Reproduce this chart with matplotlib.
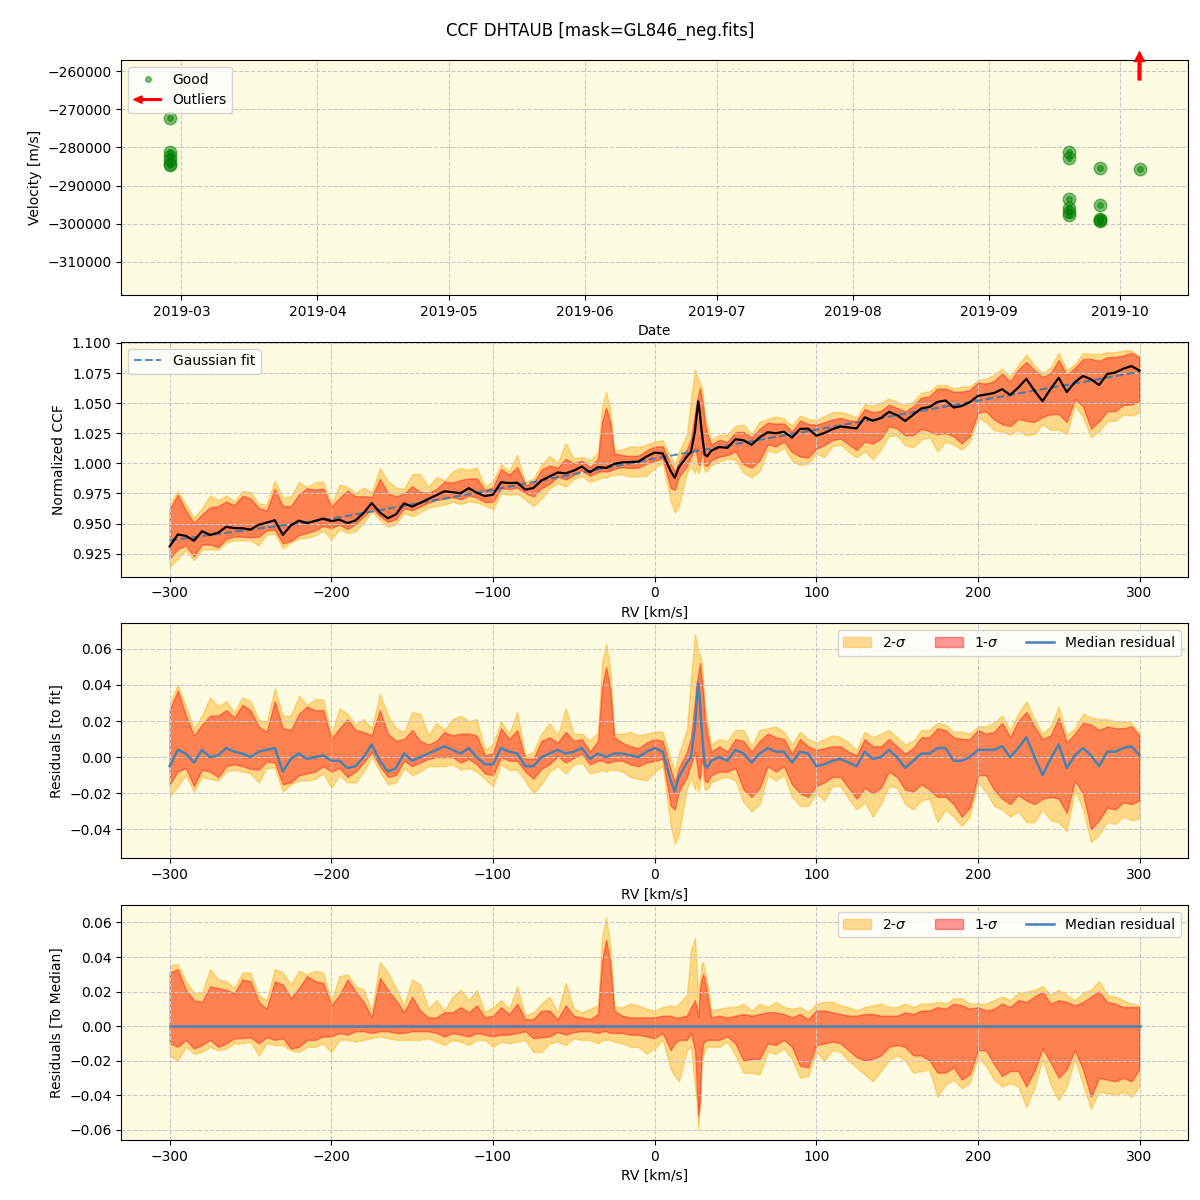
import datetime as dt
import numpy as np
import matplotlib
matplotlib.use('Agg')
import matplotlib.pyplot as plt
import matplotlib.dates as mdates
import matplotlib.patches as mpatches
from matplotlib.lines import Line2D
from matplotlib.legend_handler import HandlerPatch

# --- velocity time series (top panel) ---
obs_dates = ([dt.datetime(2019, 2, 26, 8)] * 6 + [dt.datetime(2019, 9, 19, 10)] * 6
             + [dt.datetime(2019, 9, 26, 12)] * 5 + [dt.datetime(2019, 10, 5, 10)])
obs_vel = [-272400, -281100, -282200, -283300, -284300, -284600,
           -281100, -282800, -293500, -295900, -296800, -297600,
           -285500, -295100, -298700, -299000, -299400,
           -285700]
outlier_dates = [dt.datetime(2019, 10, 5, 10)]

# --- CCF grid [km/s] ---
rv = ([-300, -295, -290, -285, -280, -275, -270, -265, -260, -255, -250, -245, -240, -235,
       -230, -225, -220, -215, -210, -205, -200, -195, -190, -185, -180, -175, -170, -165,
       -160, -155, -150, -145, -140, -135, -130, -125, -120, -115, -110, -105, -100, -95,
       -90, -85, -80, -75, -70, -65, -60, -55, -50, -45, -40,
       -35, -32.5, -30, -27.5, -25, -20, -15, -10, -5, 0,
       5, 10, 12.5, 15, 20, 22.5, 25, 26, 27, 28, 29, 30, 31, 32.5, 35]
      + [40, 45, 50, 55, 60, 65, 70, 75, 80, 85, 90, 95, 100, 105, 110, 115, 120, 125,
         130, 135, 140, 145, 150, 155, 160, 165, 170, 175, 180, 185, 190, 195, 200, 205,
         210, 215, 220, 225, 230, 235, 240, 245, 250, 255, 260, 265, 270, 275, 280, 285,
         290, 295, 300])

gauss_fit = [0.9360, 0.9369, 0.9378, 0.9387, 0.9396, 0.9405, 0.9414, 0.9423, 0.9432, 0.9441,
             0.9450, 0.9459, 0.9468, 0.9477, 0.9486, 0.9495, 0.9504, 0.9513, 0.9522, 0.9531,
             0.9540, 0.9552, 0.9564, 0.9576, 0.9588, 0.9600, 0.9612, 0.9624, 0.9636, 0.9648,
             0.9660, 0.9672, 0.9684, 0.9696, 0.9708, 0.9720, 0.9732, 0.9744, 0.9756, 0.9768,
             0.9780, 0.9793, 0.9806, 0.9819, 0.9832, 0.9845, 0.9858, 0.9871, 0.9884, 0.9897,
             0.9910, 0.9923, 0.9936,
             0.9949, 0.99555, 0.9962, 0.99685, 0.9975, 0.9988, 1.0001, 1.0014, 1.0027, 1.0040,
             1.0052, 1.0064, 1.0070, 1.0076, 1.0088, 1.0094, 1.0100, 1.0102, 1.0105, 1.0107,
             1.0110, 1.0112, 1.0114, 1.0118, 1.0124,
             1.0136, 1.0148, 1.0160, 1.0172, 1.0184, 1.0196, 1.0208, 1.0220, 1.0232, 1.0244,
             1.0256, 1.0268, 1.0280, 1.0292, 1.0304, 1.0316, 1.0328, 1.0340, 1.0352, 1.0364,
             1.0376, 1.0388, 1.0400, 1.0412, 1.0424, 1.0436, 1.0448, 1.0460, 1.0472, 1.0484,
             1.0496, 1.0508, 1.0520, 1.0532, 1.0544, 1.0556, 1.0568, 1.0580, 1.0592, 1.0604,
             1.0616, 1.0628, 1.0640, 1.0652, 1.0664, 1.0676, 1.0688, 1.0700, 1.0712, 1.0724,
             1.0736, 1.0748, 1.0760]

# median residual to the fit
resid_med = [-0.005, 0.004, 0.002, -0.003, 0.004, 0.000, 0.001, 0.005, 0.003, 0.002,
             0.000, 0.003, 0.004, 0.005, -0.008, -0.001, 0.002, -0.001, 0.000, 0.001,
             -0.002, -0.002, -0.006, -0.005, 0.000, 0.007, -0.002, -0.008, -0.006, 0.002,
             -0.002, 0.000, 0.002, 0.004, 0.006, 0.004, 0.002, 0.005, 0.000, -0.004,
             -0.004, 0.005, 0.003, 0.002, -0.005, -0.005, 0.000, 0.002, 0.004, 0.002,
             0.003, 0.005, -0.001,
             0.002, 0.001, 0.000, 0.001, 0.002, 0.002, 0.001, 0.000, 0.003, 0.005,
             0.003, -0.013, -0.019, -0.011, -0.003, 0.000,
             0.017, 0.030, 0.041, 0.031, 0.017, 0.006, -0.004, -0.006, -0.002,
             0.000, -0.002, 0.004, 0.002, -0.003, 0.002, 0.005, 0.003, 0.003, -0.003,
             0.003, 0.002,
             -0.005, -0.004, -0.002, -0.001, -0.003, -0.005, 0.003, -0.001, 0.000, 0.004,
             0.000, -0.006, -0.002, 0.002, 0.002, 0.005, 0.005, -0.002, -0.002, 0.000,
             0.004, 0.004, 0.004, 0.006, 0.000, 0.005, 0.011, 0.000, -0.010, -0.001,
             0.007, -0.006, 0.001, 0.005, 0.001, -0.005, 0.003, 0.003, 0.005, 0.006, 0.001]

# percentile offsets from the median (2-sigma / 1-sigma, upper / lower)
hi2 = [0.035, 0.036, 0.026, 0.019, 0.019, 0.033, 0.027, 0.026, 0.022, 0.031,
       0.031, 0.018, 0.015, 0.033, 0.031, 0.024, 0.032, 0.030, 0.032, 0.031,
       0.014, 0.029, 0.030, 0.023, 0.021, 0.009, 0.037, 0.031, 0.022, 0.012,
       0.027, 0.024, 0.010, 0.015, 0.009, 0.017, 0.021, 0.015, 0.021, 0.008,
       0.011, 0.015, 0.010, 0.023, 0.006, 0.008, 0.013, 0.017, 0.008, 0.025,
       0.010, 0.008, 0.010,
       0.012, 0.051, 0.063, 0.048, 0.011, 0.011, 0.013, 0.012, 0.010, 0.009,
       0.011, 0.012, 0.011, 0.013, 0.018, 0.044,
       0.051, 0.034, 0.017, 0.026, 0.036, 0.037, 0.032, 0.026, 0.009,
       0.010, 0.011, 0.011, 0.013, 0.009, 0.013, 0.011, 0.014, 0.011, 0.010,
       0.011, 0.008,
       0.013, 0.014, 0.014, 0.012, 0.011, 0.009, 0.011, 0.012, 0.013, 0.011,
       0.011, 0.013, 0.011, 0.013, 0.013, 0.014, 0.013, 0.016, 0.016, 0.013,
       0.013, 0.013, 0.015, 0.017, 0.015, 0.019, 0.020, 0.021, 0.023, 0.018,
       0.021, 0.018, 0.015, 0.019, 0.021, 0.026, 0.018, 0.017, 0.015, 0.013, 0.012]
hi1 = [0.031, 0.033, 0.021, 0.015, 0.014, 0.023, 0.022, 0.021, 0.019, 0.027,
       0.026, 0.014, 0.010, 0.026, 0.024, 0.016, 0.022, 0.029, 0.026, 0.025,
       0.012, 0.018, 0.027, 0.020, 0.014, 0.005, 0.028, 0.021, 0.015, 0.008,
       0.017, 0.009, 0.005, 0.005, 0.008, 0.008, 0.011, 0.008, 0.012, 0.005,
       0.006, 0.011, 0.007, 0.013, 0.004, 0.004, 0.009, 0.009, 0.004, 0.012,
       0.006, 0.005, 0.004,
       0.007, 0.038, 0.050, 0.037, 0.009, 0.006, 0.005, 0.005, 0.005, 0.005,
       0.006, 0.006, 0.005, 0.005, 0.006, 0.011,
       0.015, 0.011, 0.005, 0.021, 0.027, 0.030, 0.027, 0.019, 0.005,
       0.006, 0.005, 0.006, 0.007, 0.006, 0.007, 0.008, 0.008, 0.007, 0.005,
       0.007, 0.004,
       0.009, 0.009, 0.008, 0.007, 0.006, 0.006, 0.007, 0.007, 0.006, 0.006,
       0.006, 0.008, 0.007, 0.009, 0.009, 0.011, 0.010, 0.013, 0.012, 0.010,
       0.011, 0.009, 0.010, 0.013, 0.011, 0.015, 0.014, 0.017, 0.020, 0.013,
       0.015, 0.014, 0.012, 0.014, 0.017, 0.020, 0.014, 0.013, 0.011, 0.011, 0.011]
lo1 = [-0.010, -0.012, -0.008, -0.013, -0.011, -0.008, -0.012, -0.010, -0.007, -0.007,
       -0.0065, -0.010, -0.0065, -0.008, -0.007, -0.013, -0.012, -0.008, -0.008, -0.006,
       -0.006, -0.004, -0.005, -0.003, -0.003, -0.004, -0.003, -0.003, -0.004, -0.004,
       -0.003, -0.003, -0.003, -0.004, -0.006, -0.004, -0.005, -0.006, -0.004, -0.005,
       -0.006, -0.005, -0.005, -0.004, -0.003, -0.007, -0.0065, -0.006, -0.0035, -0.005,
       -0.0035, -0.003, -0.003,
       -0.004, -0.003, -0.003, -0.004, -0.004, -0.004, -0.005, -0.005, -0.006, -0.007,
       -0.004, -0.014, -0.010, -0.008, -0.008, -0.004,
       -0.014, -0.033, -0.052, -0.043, -0.018, -0.010, -0.009, -0.008, -0.008,
       -0.008, -0.006, -0.010, -0.020, -0.019, -0.019, -0.010, -0.011, -0.008, -0.012,
       -0.023, -0.024,
       -0.011, -0.010, -0.009, -0.010, -0.014, -0.018, -0.020, -0.019, -0.017, -0.012,
       -0.011, -0.012, -0.017, -0.017, -0.020, -0.027, -0.027, -0.024, -0.031, -0.028,
       -0.014, -0.014, -0.022, -0.029, -0.026, -0.026, -0.035, -0.026, -0.013, -0.021,
       -0.030, -0.025, -0.014, -0.025, -0.041, -0.030, -0.031, -0.032, -0.030, -0.032, -0.025]
lo2 = [-0.017, -0.020, -0.012, -0.016, -0.015, -0.012, -0.014, -0.013, -0.010, -0.010,
       -0.009, -0.017, -0.010, -0.011, -0.011, -0.014, -0.015, -0.012, -0.012, -0.010,
       -0.015, -0.008, -0.008, -0.009, -0.008, -0.007, -0.006, -0.007, -0.008, -0.008,
       -0.008, -0.008, -0.007, -0.009, -0.011, -0.008, -0.009, -0.011, -0.008, -0.008,
       -0.012, -0.009, -0.010, -0.009, -0.008, -0.015, -0.015, -0.010, -0.009, -0.011,
       -0.007, -0.008, -0.008,
       -0.010, -0.008, -0.008, -0.008, -0.009, -0.010, -0.012, -0.012, -0.016, -0.013,
       -0.008, -0.025, -0.029, -0.032, -0.014, -0.012,
       -0.035, -0.043, -0.060, -0.046, -0.023, -0.018, -0.014, -0.012, -0.012,
       -0.012, -0.009, -0.017, -0.027, -0.027, -0.028, -0.015, -0.016, -0.013, -0.019,
       -0.030, -0.029,
       -0.015, -0.020, -0.014, -0.015, -0.020, -0.024, -0.028, -0.032, -0.026, -0.020,
       -0.017, -0.020, -0.027, -0.026, -0.025, -0.041, -0.034, -0.031, -0.036, -0.033,
       -0.018, -0.023, -0.031, -0.035, -0.033, -0.035, -0.047, -0.036, -0.019, -0.034,
       -0.043, -0.035, -0.019, -0.034, -0.048, -0.038, -0.039, -0.040, -0.038, -0.041, -0.035]

rv = np.array(rv)
fit = np.array(gauss_fit)
res = np.array(resid_med)
hi2, hi1, lo1, lo2 = map(np.array, (hi2, hi1, lo1, lo2))
ccf = fit + res

bg = '#fdfbe1'


def make_arrow(legend, orig_handle, xdescent, ydescent, width, height, fontsize):
    return mpatches.FancyArrow(width, 0.5 * height, -width, 0, length_includes_head=True,
                               width=0.18 * height, head_width=0.75 * height,
                               head_length=0.3 * width, color='red')


fig, axes = plt.subplots(4, 1, figsize=(12, 12), dpi=100)
fig.subplots_adjust(left=0.101, right=0.99, bottom=0.05, top=0.95, hspace=0.2)
fig.suptitle('CCF DHTAUB [mask=GL846_neg.fits]', fontsize=12, y=0.982)

# panel 1: velocities
ax = axes[0]
ax.set_facecolor(bg)
ax.plot(obs_dates, obs_vel, 'o', color='green', alpha=0.5, ms=9)
ax.plot(obs_dates, obs_vel, 'o', color='green', alpha=0.5, ms=4)
for d in outlier_dates:
    ax.annotate('', xy=(d, 1.035), xytext=(d, 0.915),
                xycoords=('data', 'axes fraction'), textcoords=('data', 'axes fraction'),
                arrowprops=dict(color='red', width=2, headwidth=7, headlength=7),
                annotation_clip=False)
ax.set_ylim(-318600, -257100)
ax.xaxis.set_major_locator(mdates.MonthLocator())
ax.xaxis.set_major_formatter(mdates.DateFormatter('%Y-%m'))
ax.set_xlabel('Date')
ax.set_ylabel('Velocity [m/s]')
ax.grid(True, ls='--', color='#c8c8c8', lw=0.8)
good_h = Line2D([], [], ls='', marker='o', color='green', alpha=0.5, ms=4)
out_h = mpatches.FancyArrow(0, 0, 1, 0, color='red')
ax.legend([good_h, out_h], ['Good', 'Outliers'], loc='upper left',
          handler_map={mpatches.FancyArrow: HandlerPatch(patch_func=make_arrow)})

# panel 2: normalized CCF
ax = axes[1]
ax.set_facecolor(bg)
ax.fill_between(rv, ccf + lo2, ccf + hi2, color='orange', alpha=0.4)
ax.fill_between(rv, ccf + lo1, ccf + hi1, color='red', alpha=0.4)
ax.plot(rv, fit, '--', color='C0', alpha=0.8, lw=1.5, label='Gaussian fit')
ax.plot(rv, ccf, color='black', lw=1.6)
ax.set_xlim(-330, 330)
ax.set_ylim(0.906, 1.101)
ax.set_yticks(np.arange(0.925, 1.1001, 0.025))
ax.set_xlabel('RV [km/s]')
ax.set_ylabel('Normalized CCF')
ax.grid(True, ls='--', color='#c8c8c8', lw=0.8)
ax.legend(loc='upper left')

# panel 3: residuals to the fit
ax = axes[2]
ax.set_facecolor(bg)
ax.fill_between(rv, res + lo2, res + hi2, color='orange', alpha=0.4, label='2-$\\sigma$')
ax.fill_between(rv, res + lo1, res + hi1, color='red', alpha=0.4, label='1-$\\sigma$')
ax.plot(rv, res, color='steelblue', lw=1.8, label='Median residual')
ax.set_xlim(-330, 330)
ax.set_ylim(-0.056, 0.074)
ax.set_xlabel('RV [km/s]')
ax.set_ylabel('Residuals [to fit]')
ax.grid(True, ls='--', color='#c8c8c8', lw=0.8)
ax.legend(loc='upper right', ncol=3)

# panel 4: residuals to the median
ax = axes[3]
ax.set_facecolor(bg)
ax.fill_between(rv, lo2, hi2, color='orange', alpha=0.4, label='2-$\\sigma$')
ax.fill_between(rv, lo1, hi1, color='red', alpha=0.4, label='1-$\\sigma$')
ax.plot(rv, np.zeros_like(res), color='steelblue', lw=1.8, label='Median residual')
ax.set_xlim(-330, 330)
ax.set_ylim(-0.066, 0.070)
ax.set_xlabel('RV [km/s]')
ax.set_ylabel('Residuals [To Median]')
ax.grid(True, ls='--', color='#c8c8c8', lw=0.8)
ax.legend(loc='upper right', ncol=3)

fig.savefig('out.png', dpi=100)
